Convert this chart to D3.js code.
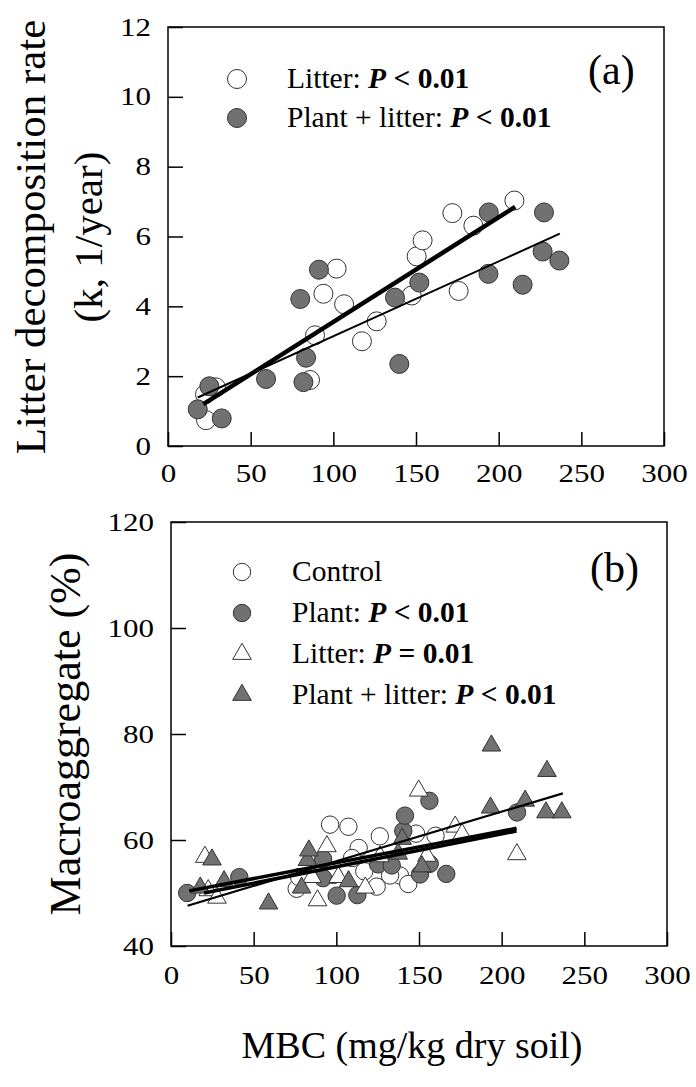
<!DOCTYPE html>
<html>
<head>
<meta charset="utf-8">
<script src="https://cdn.jsdelivr.net/npm/d3@7"></script>
<style>
  body { margin: 0; background: #fff; }
  svg text { font-family: "Liberation Serif", "Times New Roman", serif; fill: #000; }
</style>
</head>
<body>
<svg id="chart" width="696" height="1087"></svg>
<script>
// ---- panel (a): litter decomposition rate k vs MBC ----
var aLitter = [[22.4,1.48],[23,0.74],[29,1.68],[85.9,1.89],[88.9,3.17],[94,4.36],[102,5.08],[106.5,4.06],
  [117.3,3.0],[126.2,3.57],[147.4,4.31],[150.4,5.43],[154,5.89],[175.8,4.44],[172,6.67],[184.7,6.31],[209.5,7.03]]
var aPlantLitter = [[25,1.71],[18,1.05],[32.5,0.79],[59.3,1.92],[81.9,1.83],[83.5,2.53],[80,4.21],[91.3,5.05],
  [137.3,4.25],[139.9,2.35],[152,4.68],[193.8,4.93],[214.5,4.62],[226.6,5.57],[236.7,5.31],[227.4,6.69],[194,6.69]]
var aLitterFit = [[21.4,1.2],[210,6.85]]
var aPlantLitterFit = [[18,1.39],[237,6.08]]

// ---- panel (b): macroaggregate % vs MBC ----
var bControl = [[76,50.8],[77.5,53],[96.2,62.9],[107.3,62.5],[113.5,58.5],[126.3,60.7],[124.4,51.2],[138.5,53.3],
  [143.5,51.7],[148.2,61.2],[160,60.8],[98.2,53.4],[109.5,56.6],[116.9,54.1],[132.5,53.3]]
var bPlant = [[9.8,50],[41.3,53],[92,56.4],[92,52.8],[100.2,49.5],[112.7,49.6],[125.3,55.4],[133.5,55.2],
  [140.5,61.7],[141.5,64.6],[150.6,53.5],[156.5,55.5],[156.3,67.4],[166.5,53.6],[209.3,65.2]]
var bLitter = [[20.5,56.8],[22.5,50.5],[27.8,49.1],[85.3,53],[88.6,48.6],[94.3,58.8],[101.2,53],[117.5,51],
  [126.4,56.9],[149.8,69.3],[154.8,57],[171.9,62.5],[176,61.1],[209.2,57.3]]
var bPlantLitter = [[17.7,51],[24.8,56.3],[32.1,52.2],[59,48],[79,51],[82.5,56.2],[83.4,58],[107.4,52.2],
  [137.4,57.4],[139.8,60.2],[151.8,55],[193.8,77.8],[193.3,66.1],[214.2,67.4],[226.8,65.2],[227.4,73],[236.4,65.2]]
var bPlantFit = [[11,50.4],[209,62.2]]
var bLitterFit = [[20,50.0],[209,61.7]]
var bPlantLitterFit = [[10,47.6],[237,68.8]]

var xTicks = [0, 50, 100, 150, 200, 250, 300]
var aYTicks = [0, 2, 4, 6, 8, 10, 12]
var bYTicks = [40, 60, 80, 100, 120]

var aLegend = [
  {shape: "circle", fill: "#fff", parts: [["Litter: "], ["P", "bi"], [" < 0.01", "b"]]},
  {shape: "circle", fill: "gray", parts: [["Plant + litter: "], ["P", "bi"], [" < 0.01", "b"]]}
]
var bLegend = [
  {shape: "circle", fill: "#fff", parts: [["Control"]]},
  {shape: "circle", fill: "gray", parts: [["Plant: "], ["P", "bi"], [" < 0.01", "b"]]},
  {shape: "triangle", fill: "#fff", parts: [["Litter: "], ["P", "bi"], [" = 0.01", "b"]]},
  {shape: "triangle", fill: "gray", parts: [["Plant + litter: "], ["P", "bi"], [" < 0.01", "b"]]}
]

var GRAY = "#717171"
var svg = d3.select("#chart")

function color(f) { return f === "gray" ? GRAY : f }

function drawPanel(p) {
  var x = d3.scaleLinear().domain([0, 300]).range([p.left, p.right])
  var y = d3.scaleLinear().domain(p.yDomain).range([p.bottom, p.top])
  var g = svg.append("g")

  // axes: inward ticks
  var xa = g.append("g").attr("transform", "translate(0," + p.bottom + ")")
    .call(d3.axisBottom(x).tickValues(xTicks).tickSize(-14).tickSizeOuter(0).tickPadding(p.xPad))
  var ya = g.append("g").attr("transform", "translate(" + p.left + ",0)")
    .call(d3.axisLeft(y).tickValues(p.yTicks).tickSize(-15).tickSizeOuter(0).tickPadding(17))
  ;[xa, ya].forEach(function(a) {
    a.select(".domain").remove()
    a.selectAll("line").attr("stroke", "#000").attr("stroke-width", 1.5)
    a.selectAll("text").attr("font-size", 25).attr("fill", "#000")
      .attr("font-family", "Liberation Serif, Times New Roman, serif")
      .attr("textLength", function(d) { return String(d).length * 15.5 })
      .attr("lengthAdjust", "spacingAndGlyphs")
  })

  g.append("rect").attr("x", p.left).attr("y", p.top)
    .attr("width", p.right - p.left).attr("height", p.bottom - p.top)
    .attr("fill", "none").attr("stroke", "#000").attr("stroke-width", 1.5)

  // points
  p.series.forEach(function(s) {
    g.append("g").selectAll("path").data(s.data).enter().append("path")
      .attr("transform", function(d) { return "translate(" + x(d[0]) + "," + y(d[1]) + ")" })
      .attr("d", s.shape === "circle"
        ? d3.symbol(d3.symbolCircle, Math.PI * p.r * p.r)()
        : d3.symbol(d3.symbolTriangle, p.tri)())
      .attr("fill", color(s.fill)).attr("stroke", "#333").attr("stroke-width", 1)
  })

  // fitted lines
  var line = d3.line().x(function(d) { return x(d[0]) }).y(function(d) { return y(d[1]) })
  p.fits.forEach(function(f) {
    g.append("path").datum(f.data).attr("d", line)
      .attr("fill", "none").attr("stroke", "#000").attr("stroke-width", f.w)
  })

  // legend
  p.legend.forEach(function(item, i) {
    var cy = p.legY + i * p.legStep
    g.append("path").attr("transform", "translate(" + p.legX + "," + cy + ")")
      .attr("d", item.shape === "circle"
        ? d3.symbol(d3.symbolCircle, Math.PI * p.r * p.r)()
        : d3.symbol(d3.symbolTriangle, p.tri)())
      .attr("fill", color(item.fill)).attr("stroke", "#333").attr("stroke-width", 1)
    var t = g.append("text").attr("x", p.legTextX).attr("y", cy + 9).attr("font-size", 29.5)
    item.parts.forEach(function(pt) {
      var ts = t.append("tspan").text(pt[0])
      if (pt[1] && pt[1].indexOf("b") >= 0) ts.attr("font-weight", "bold")
      if (pt[1] && pt[1].indexOf("i") >= 0) ts.attr("font-style", "italic")
    })
  })

  g.append("text").attr("x", p.tagX).attr("y", p.tagY).attr("font-size", 42).text(p.tag)
  return g
}

drawPanel({
  left: 168, right: 664, top: 27, bottom: 446, yDomain: [0, 12], yTicks: aYTicks, xPad: 18,
  r: 9.5, tri: 150,
  series: [
    {shape: "circle", fill: "#fff", data: aLitter},
    {shape: "circle", fill: "gray", data: aPlantLitter}
  ],
  fits: [{data: aLitterFit, w: 4.5}, {data: aPlantLitterFit, w: 2}],
  legend: aLegend, legX: 237, legY: 79, legStep: 39, legTextX: 287,
  tag: "(a)", tagX: 588, tagY: 84
})

drawPanel({
  left: 171, right: 667, top: 522, bottom: 946, yDomain: [40, 120], yTicks: bYTicks, xPad: 20,
  r: 8.7, tri: 150,
  series: [
    {shape: "circle", fill: "#fff", data: bControl},
    {shape: "circle", fill: "gray", data: bPlant},
    {shape: "triangle", fill: "#fff", data: bLitter},
    {shape: "triangle", fill: "gray", data: bPlantLitter}
  ],
  fits: [{data: bPlantFit, w: 3.5}, {data: bLitterFit, w: 3.5}, {data: bPlantLitterFit, w: 2.2}],
  legend: bLegend, legX: 242, legY: 572, legStep: 41, legTextX: 292,
  tag: "(b)", tagX: 590, tagY: 582
})

// axis titles
svg.append("text").attr("transform", "translate(45,237) rotate(-90)")
  .attr("text-anchor", "middle").attr("font-size", 43).text("Litter decomposition rate")
svg.append("text").attr("transform", "translate(102,237) rotate(-90)")
  .attr("text-anchor", "middle").attr("font-size", 41).text("(k, 1/year)")
svg.append("text").attr("transform", "translate(80,734) rotate(-90)")
  .attr("text-anchor", "middle").attr("font-size", 44).text("Macroaggregate (%)")
svg.append("text").attr("x", 412).attr("y", 1058)
  .attr("text-anchor", "middle").attr("font-size", 38).text("MBC (mg/kg dry soil)")
</script>
</body>
</html>
